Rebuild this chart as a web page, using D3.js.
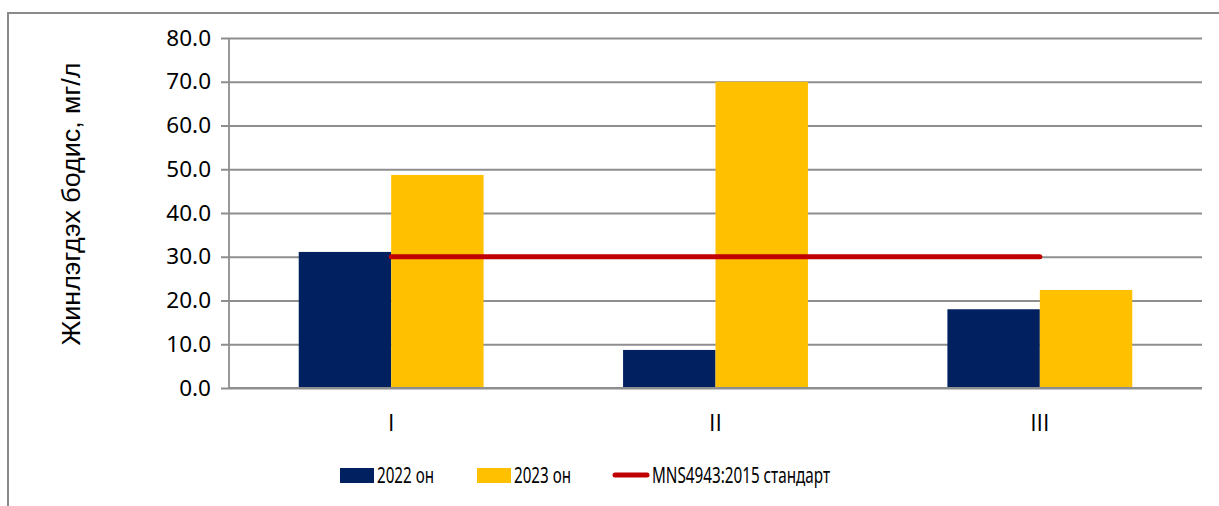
<!DOCTYPE html>
<html>
<head>
<meta charset="utf-8">
<script src="https://cdn.jsdelivr.net/npm/d3@7"></script>
<style>
  body { margin: 0; background: #fff; }
  svg { display: block; }
</style>
</head>
<body>
<div id="container"></div>
<script>
var width = 1219;
var height = 506;

// data
var categories = ["I", "II", "III"];
var values2022 = [31.1, 8.7, 18.0];
var values2023 = [48.7, 70.0, 22.4];
var standardValue = [30, 30, 30];
var yTicks = [0, 10, 20, 30, 40, 50, 60, 70, 80];
var seriesNames = ["2022 он", "2023 он", "MNS4943:2015 стандарт"];

var plot = { left: 229, right: 1202, top: 38, bottom: 388 };
var colors = { y2022: "#002060", y2023: "#FFC000", std: "#C00000", grid: "#8e8e8e" };

var svg = d3.select("#container").append("svg")
    .attr("width", width)
    .attr("height", height);

// outer frame (top and left edges only visible)
svg.append("path")
    .attr("d", "M8,506 L8,13 L1219,13")
    .attr("fill", "none")
    .attr("stroke", "#8a8a8a")
    .attr("stroke-width", 2);

var x = d3.scaleBand()
    .domain(categories)
    .range([plot.left, plot.right])
    .paddingInner(0.43)
    .paddingOuter(0.215);

var xs = d3.scaleBand()
    .domain(["2022", "2023"])
    .range([0, x.bandwidth()]);

var y = d3.scaleLinear()
    .domain([0, 80])
    .range([plot.bottom, plot.top]);

// gridlines + y axis
var yAxis = d3.axisLeft(y)
    .tickValues(yTicks)
    .tickFormat(d3.format(".1f"))
    .tickSize(-(plot.right - plot.left))
    .tickPadding(18);

var gy = svg.append("g")
    .attr("transform", "translate(" + plot.left + ",0)")
    .call(yAxis);
gy.select(".domain").remove();
gy.selectAll(".tick line")
    .attr("x1", -8)
    .attr("stroke", colors.grid)
    .attr("stroke-width", 1.8);
gy.selectAll(".tick text")
    .attr("fill", "#000")
    .style("font-family", "'Noto Sans', sans-serif")
    .style("font-size", "22.5px");

// vertical axis line
svg.append("line")
    .attr("x1", plot.left).attr("x2", plot.left)
    .attr("y1", plot.top).attr("y2", plot.bottom)
    .attr("stroke", colors.grid)
    .attr("stroke-width", 1.8);

// bars
var groups = svg.selectAll(".cat")
    .data(categories)
    .enter().append("g")
    .attr("class", "cat")
    .attr("transform", function(d) { return "translate(" + x(d) + ",0)"; });

groups.append("rect")
    .attr("x", xs("2022"))
    .attr("width", xs.bandwidth())
    .attr("y", function(d, i) { return y(values2022[i]); })
    .attr("height", function(d, i) { return y(0) - y(values2022[i]); })
    .attr("fill", colors.y2022);

groups.append("rect")
    .attr("x", xs("2023"))
    .attr("width", xs.bandwidth())
    .attr("y", function(d, i) { return y(values2023[i]); })
    .attr("height", function(d, i) { return y(0) - y(values2023[i]); })
    .attr("fill", colors.y2023);

// x axis baseline
svg.append("line")
    .attr("x1", plot.left).attr("x2", plot.right)
    .attr("y1", plot.bottom).attr("y2", plot.bottom)
    .attr("stroke", colors.grid)
    .attr("stroke-width", 1.8);

// standard line
var line = d3.line()
    .x(function(d, i) { return x(categories[i]) + x.bandwidth() / 2; })
    .y(function(d) { return y(d); });

svg.append("path")
    .datum(standardValue)
    .attr("d", line)
    .attr("fill", "none")
    .attr("stroke", colors.std)
    .attr("stroke-width", 5)
    .attr("stroke-linecap", "round");

// category labels
svg.selectAll(".xlab")
    .data(categories)
    .enter().append("text")
    .attr("class", "xlab")
    .attr("x", function(d) { return x(d) + x.bandwidth() / 2; })
    .attr("y", 431)
    .attr("text-anchor", "middle")
    .style("font-family", "'Open Sans', 'DejaVu Sans', sans-serif")
    .style("font-size", "23px")
    .text(function(d) { return d; });

// y axis title
svg.append("text")
    .attr("transform", "translate(80,204) rotate(-90)")
    .attr("text-anchor", "middle")
    .attr("textLength", 283)
    .attr("lengthAdjust", "spacingAndGlyphs")
    .style("font-family", "'Liberation Sans', Arial, sans-serif")
    .style("font-size", "26px")
    .text("Жинлэгдэх бодис, мг/л");

// legend
var legendItems = [
  { name: seriesNames[0], type: "rect", color: colors.y2022, x: 340, len: 57 },
  { name: seriesNames[1], type: "rect", color: colors.y2023, x: 477, len: 57 },
  { name: seriesNames[2], type: "line", color: colors.std, x: 613, len: 178 }
];
var leg = svg.selectAll(".leg")
    .data(legendItems)
    .enter().append("g")
    .attr("class", "leg")
    .attr("transform", function(d) { return "translate(" + d.x + ",475)"; });

leg.filter(function(d) { return d.type == "rect"; })
    .append("rect")
    .attr("x", 0).attr("y", -7)
    .attr("width", 34).attr("height", 15)
    .attr("fill", function(d) { return d.color; });

leg.filter(function(d) { return d.type == "line"; })
    .append("line")
    .attr("x1", 2).attr("x2", 34)
    .attr("y1", 0).attr("y2", 0)
    .attr("stroke", function(d) { return d.color; })
    .attr("stroke-width", 5)
    .attr("stroke-linecap", "round");

leg.append("text")
    .attr("x", function(d) { return d.type == "rect" ? 37 : 39; })
    .attr("y", 8)
    .attr("textLength", function(d) { return d.len; })
    .attr("lengthAdjust", "spacingAndGlyphs")
    .style("font-family", "'Noto Sans', sans-serif")
    .style("font-size", "22px")
    .text(function(d) { return d.name; });
</script>
</body>
</html>
